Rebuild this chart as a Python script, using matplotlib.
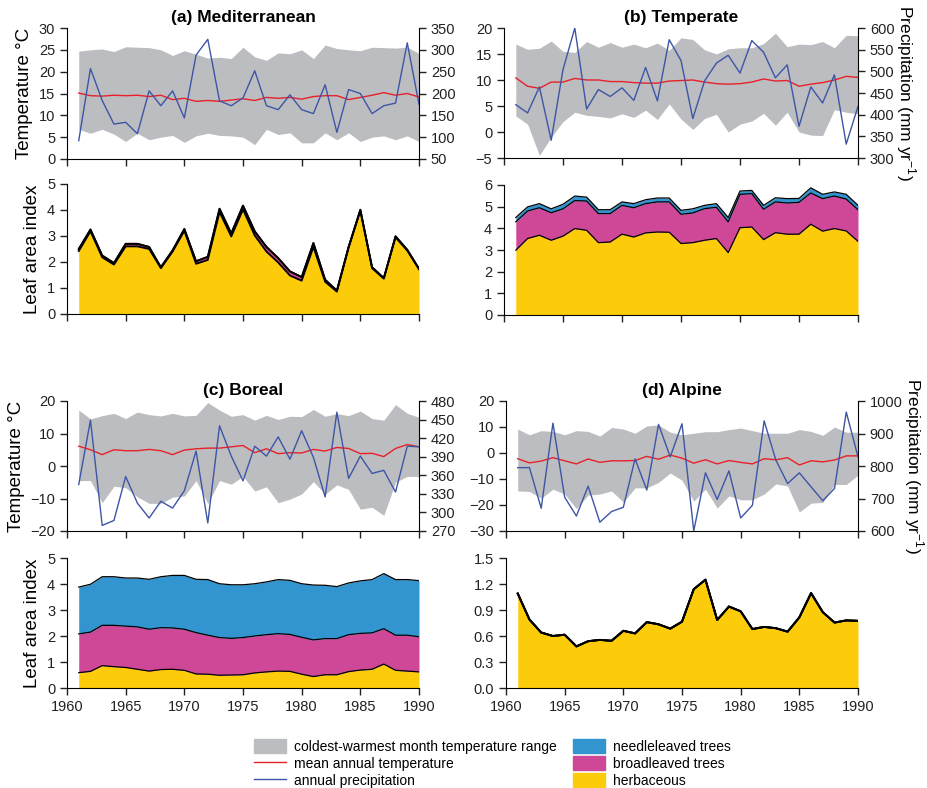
import numpy as np
import matplotlib.pyplot as plt
from matplotlib.patches import Patch
from matplotlib.lines import Line2D

plt.rcParams["font.family"] = ["Liberation Sans", "DejaVu Sans"]
plt.rcParams["mathtext.fontset"] = "custom"
plt.rcParams["mathtext.rm"] = "Liberation Sans"

years = np.arange(1961, 1991)

# ---- climate: warmest / coldest month, mean annual temperature (°C), precipitation (mm/yr)
med_tmax = [24.7, 25.0, 25.2, 24.6, 25.7, 25.6, 25.5, 25.0, 23.7, 24.8, 24.0, 23.1, 23.3, 23.0, 25.6,
            23.4, 22.6, 24.3, 24.1, 25.0, 23.0, 26.1, 25.3, 25.0, 24.8, 25.6, 25.5, 25.4, 25.6, 24.2]
med_tmin = [6.8, 5.9, 6.8, 5.7, 4.0, 5.9, 4.4, 5.0, 5.4, 3.8, 5.3, 5.9, 5.4, 5.3, 5.0,
            3.3, 6.8, 5.6, 6.0, 3.7, 3.7, 6.0, 4.4, 6.0, 4.0, 5.0, 5.3, 4.4, 5.3, 4.0]
med_tmean = [15.1, 14.5, 14.4, 14.6, 14.5, 14.6, 14.3, 14.6, 13.6, 13.9, 13.2, 13.4, 13.2, 13.5, 13.8,
             13.4, 14.1, 13.9, 14.1, 13.7, 14.3, 14.5, 14.5, 13.6, 14.1, 14.6, 15.2, 14.6, 15.0, 14.2]
med_prec = [92, 257, 184, 130, 134, 108, 206, 172, 206, 144, 288, 324, 183, 172, 190,
            252, 172, 163, 197, 163, 154, 220, 111, 209, 200, 154, 172, 178, 316, 175]

tem_tmax = [16.9, 15.9, 16.1, 17.5, 15.5, 15.3, 17.4, 16.3, 17.2, 16.3, 16.9, 16.2, 17.1, 15.7, 18.1,
            17.8, 15.8, 15.0, 16.0, 16.2, 16.2, 17.0, 19.0, 16.4, 16.9, 16.8, 17.4, 16.2, 18.6, 18.5]
tem_tmin = [3.1, 1.5, -4.5, -1.0, 2.0, 3.8, 3.2, 3.0, 2.7, 3.5, 2.8, 4.2, 2.4, 5.4, 2.5,
            0.5, 2.6, 3.4, 0.0, 1.5, 2.1, 3.6, 1.3, 3.8, 0.0, -0.6, -0.7, 4.3, 3.8, 3.5]
tem_tmean = [10.4, 8.8, 8.4, 9.6, 9.6, 10.3, 10.0, 10.0, 9.7, 9.7, 9.5, 9.4, 9.4, 9.8, 9.9,
             10.0, 9.6, 9.3, 9.2, 9.3, 9.6, 10.2, 9.8, 9.9, 8.8, 9.2, 9.5, 10.0, 10.7, 10.5]
tem_prec = [423, 404, 464, 341, 504, 600, 413, 458, 442, 462, 433, 509, 432, 573, 525,
            391, 478, 519, 537, 496, 571, 544, 485, 515, 373, 464, 427, 492, 332, 419]

bor_tmax = [17.2, 14.5, 15.5, 16.2, 14.6, 16.6, 15.8, 15.4, 16.2, 15.4, 15.6, 19.5, 17.2, 15.3, 15.8,
            14.1, 15.6, 14.3, 15.3, 15.2, 17.4, 15.3, 16.1, 15.5, 16.9, 14.6, 14.1, 18.9, 16.2, 15.0]
bor_tmin = [-4.5, -4.5, -11.3, -6.2, -6.7, -9.5, -11.5, -11.5, -9.6, -9.2, -4.5, -11.6, -4.5, -5.6, -3.2,
            -7.7, -6.4, -11.3, -10.2, -8.6, -4.8, -8.7, -5.8, -7.2, -13.3, -12.7, -15.2, -5.0, -3.2, -3.2]
bor_tmean = [6.1, 5.0, 3.5, 5.0, 4.7, 4.7, 5.1, 4.7, 3.5, 4.9, 5.3, 5.5, 5.5, 5.9, 6.3,
             4.1, 5.3, 3.8, 4.1, 4.0, 5.1, 4.6, 5.7, 5.4, 3.8, 3.9, 2.9, 5.4, 6.6, 5.9]
bor_prec = [345, 449, 279, 287, 358, 315, 291, 318, 307, 335, 399, 283, 440, 391, 351,
            407, 391, 422, 386, 432, 389, 325, 462, 355, 391, 363, 368, 333, 407, 406]

alp_tmax = [9.2, 7.0, 8.6, 8.3, 7.0, 8.6, 8.3, 6.5, 9.8, 9.2, 7.6, 10.4, 10.8, 8.0, 7.0,
            7.6, 8.2, 8.2, 9.0, 9.6, 8.6, 7.6, 7.6, 7.6, 9.0, 8.3, 6.8, 10.0, 8.0, 8.0]
alp_tmin = [-14.6, -14.8, -17.4, -13.9, -15.8, -21.4, -16.2, -15.8, -14.6, -18.9, -13.4, -13.4, -11.3, -7.7, -10.5,
            -18.5, -13.9, -21.2, -16.5, -18.0, -18.0, -15.8, -11.9, -12.7, -22.7, -19.3, -19.0, -12.1, -12.1, -8.5]
alp_tmean = [-2.2, -3.8, -3.1, -1.8, -3.0, -4.2, -2.3, -3.6, -3.0, -3.0, -2.9, -1.3, -2.4, -0.8, -2.0,
             -3.9, -2.6, -4.2, -2.9, -3.6, -4.2, -2.2, -2.6, -1.8, -4.6, -3.0, -3.4, -2.7, -1.1, -1.1]
alp_prec = [795, 795, 670, 932, 704, 646, 738, 627, 660, 673, 822, 726, 928, 828, 930,
            600, 779, 697, 785, 640, 679, 939, 818, 746, 779, 736, 693, 731, 966, 828]

# ---- leaf area index, cumulative tops: herbaceous, +broadleaved, +needleleaved
med_herb = [2.42, 3.18, 2.18, 1.90, 2.60, 2.60, 2.50, 1.76, 2.40, 3.20, 1.93, 2.08, 3.92, 2.98, 4.02,
            3.02, 2.40, 1.98, 1.48, 1.28, 2.58, 1.24, 0.86, 2.55, 3.97, 1.76, 1.36, 2.95, 2.44, 1.72]
med_broad = [2.50, 3.25, 2.25, 1.96, 2.70, 2.70, 2.58, 1.80, 2.45, 3.27, 2.03, 2.20, 4.05, 3.10, 4.17,
             3.18, 2.58, 2.15, 1.64, 1.42, 2.73, 1.32, 0.90, 2.58, 4.01, 1.80, 1.38, 2.99, 2.47, 1.74]
med_needle = med_broad

tem_herb = [2.99, 3.53, 3.68, 3.45, 3.64, 3.99, 3.91, 3.34, 3.37, 3.73, 3.60, 3.79, 3.83, 3.82, 3.30,
            3.34, 3.45, 3.53, 2.88, 4.03, 4.06, 3.48, 3.80, 3.73, 3.73, 4.19, 3.87, 3.99, 3.88, 3.40]
tem_broad = [4.30, 4.80, 4.95, 4.72, 4.90, 5.28, 5.26, 4.68, 4.68, 5.06, 4.95, 5.14, 5.22, 5.22, 4.65,
             4.71, 4.91, 4.97, 4.30, 5.57, 5.60, 4.88, 5.22, 5.17, 5.20, 5.63, 5.37, 5.49, 5.35, 4.86]
tem_needle = [4.50, 4.99, 5.14, 4.90, 5.11, 5.49, 5.44, 4.86, 4.86, 5.22, 5.14, 5.32, 5.40, 5.40, 4.83,
              4.90, 5.06, 5.14, 4.50, 5.72, 5.75, 5.06, 5.41, 5.37, 5.38, 5.87, 5.57, 5.68, 5.57, 5.06]

bor_herb = [0.59, 0.64, 0.86, 0.82, 0.79, 0.72, 0.65, 0.71, 0.72, 0.68, 0.54, 0.53, 0.49, 0.50, 0.51,
            0.58, 0.62, 0.65, 0.64, 0.53, 0.44, 0.51, 0.51, 0.63, 0.69, 0.72, 0.92, 0.68, 0.65, 0.62]
bor_broad = [2.08, 2.15, 2.41, 2.41, 2.38, 2.35, 2.26, 2.32, 2.31, 2.26, 2.13, 2.03, 1.94, 1.91, 1.94,
             2.00, 2.05, 2.09, 2.06, 1.95, 1.85, 1.90, 1.90, 2.05, 2.10, 2.12, 2.28, 2.03, 2.03, 1.97]
bor_needle = [3.88, 3.99, 4.28, 4.28, 4.23, 4.23, 4.18, 4.28, 4.33, 4.33, 4.18, 4.17, 4.01, 3.97, 3.97,
              4.01, 4.08, 4.17, 4.14, 4.01, 3.96, 3.95, 3.90, 4.04, 4.12, 4.17, 4.40, 4.17, 4.17, 4.13]

alp_herb = [1.09, 0.79, 0.64, 0.60, 0.615, 0.48, 0.54, 0.555, 0.545, 0.66, 0.63, 0.76, 0.735, 0.685, 0.765,
            1.14, 1.25, 0.785, 0.94, 0.885, 0.68, 0.705, 0.69, 0.65, 0.815, 1.095, 0.875, 0.755, 0.78, 0.775]
alp_broad = alp_herb
alp_needle = alp_herb

GREY = "#bcbdc0"
RED = "#e8202a"
BLUE = "#3d55a6"
NEEDLE = "#3295cf"
BROAD = "#cf4898"
HERB = "#fccb0a"

TICK_FS = 10.5
LABEL_FS = 13.5

W, H = 927, 788
fig = plt.figure(figsize=(W / 100, H / 100), dpi=100)


def px_axes(x0, x1, y0, y1):
    return fig.add_axes([x0 / W, 1 - y1 / H, (x1 - x0) / W, (y1 - y0) / H])


def style(ax):
    for s in ("top", "right"):
        ax.spines[s].set_visible(False)
    ax.tick_params(direction="out", length=5, width=1, labelsize=TICK_FS, colors="#222222")
    ax.set_xlim(1960, 1990)
    ax.set_xticks(range(1960, 1991, 5))


def climate(ax, tmin, tmax, tmean, prec, tlim, tticks, plim, pticks, title, left_label, right_label):
    style(ax)
    ax.fill_between(years, tmin, tmax, color=GREY, lw=0)
    ax.plot(years, tmean, color=RED, lw=1.0)
    ax.set_ylim(*tlim)
    ax.set_yticks(tticks)
    ax.tick_params(axis="x", labelbottom=False)
    ax.set_title(title, fontsize=12.5, fontweight="bold", pad=4)
    if left_label:
        ax.set_ylabel("Temperature °C", fontsize=LABEL_FS)
    ax2 = ax.twinx()
    for s in ("top", "left", "bottom"):
        ax2.spines[s].set_visible(False)
    ax2.plot(years, prec, color=BLUE, lw=1.0)
    ax2.set_ylim(*plim)
    ax2.set_yticks(pticks)
    ax2.tick_params(direction="out", length=5, width=1, labelsize=TICK_FS, colors="#222222")
    ax2.set_xlim(1960, 1990)
    if right_label:
        ax2.set_ylabel("Precipitation (mm yr$^{-1}$)", fontsize=12.5, rotation=270, labelpad=16.5)


def lai(ax, herb, broad, needle, ylim, yticks, left_label, xlabels, fmt=None, lw=1.1):
    style(ax)
    ax.fill_between(years, 0, herb, color=HERB, lw=0)
    ax.fill_between(years, herb, broad, color=BROAD, lw=0)
    ax.fill_between(years, broad, needle, color=NEEDLE, lw=0)
    for top in (herb, broad, needle):
        ax.plot(years, top, color="black", lw=lw)
    ax.set_ylim(*ylim)
    ax.set_yticks(yticks)
    if fmt:
        ax.set_yticklabels([fmt.format(v) for v in yticks])
    ax.tick_params(axis="x", labelbottom=xlabels)
    if left_label:
        ax.set_ylabel("Leaf area index", fontsize=LABEL_FS)


# (a) Mediterranean
climate(px_axes(67, 419, 28, 159), med_tmin, med_tmax, med_tmean, med_prec,
        (0, 30), range(0, 31, 5), (50, 350), range(50, 351, 50),
        "(a) Mediterranean", True, False)
lai(px_axes(67, 419, 184, 314), med_herb, med_broad, med_needle,
    (0, 5), range(0, 6), True, False, lw=1.3)

# (b) Temperate
climate(px_axes(504, 858, 28, 158), tem_tmin, tem_tmax, tem_tmean, tem_prec,
        (-5, 20), range(-5, 21, 5), (300, 600), range(300, 601, 50),
        "(b) Temperate", False, True)
lai(px_axes(504, 858, 185, 315), tem_herb, tem_broad, tem_needle,
    (0, 6), range(0, 7), False, False, lw=0.9)

# (c) Boreal
climate(px_axes(67, 419, 401, 531), bor_tmin, bor_tmax, bor_tmean, bor_prec,
        (-20, 20), range(-20, 21, 10), (270, 480), range(270, 481, 30),
        "(c) Boreal", True, False)
lai(px_axes(67, 419, 558, 688), bor_herb, bor_broad, bor_needle,
    (0, 5), range(0, 6), True, True, lw=0.9)

# (d) Alpine
climate(px_axes(506, 858, 401, 531), alp_tmin, alp_tmax, alp_tmean, alp_prec,
        (-30, 20), range(-30, 21, 10), (600, 1000), range(600, 1001, 100),
        "(d) Alpine", False, True)
lai(px_axes(506, 858, 558, 688), alp_herb, alp_broad, alp_needle,
    (0, 1.5), [0, 0.3, 0.6, 0.9, 1.2, 1.5], False, True, fmt="{:.1f}", lw=1.4)

# legends
leg_kw = dict(frameon=False, fontsize=10, handlelength=2.3, handleheight=1.2,
              labelspacing=0.15, handletextpad=0.6, borderpad=0, borderaxespad=0)
fig.legend(handles=[Patch(color=GREY, label="coldest-warmest month temperature range"),
                    Line2D([], [], color=RED, lw=1, label="mean annual temperature"),
                    Line2D([], [], color=BLUE, lw=1, label="annual precipitation")],
           loc="upper left", bbox_to_anchor=(254 / W, 1 - 739 / H), **leg_kw)
fig.legend(handles=[Patch(color=NEEDLE, label="needleleaved trees"),
                    Patch(color=BROAD, label="broadleaved trees"),
                    Patch(color=HERB, label="herbaceous")],
           loc="upper left", bbox_to_anchor=(573 / W, 1 - 739 / H), **leg_kw)

fig.savefig("out.png", dpi=100)
